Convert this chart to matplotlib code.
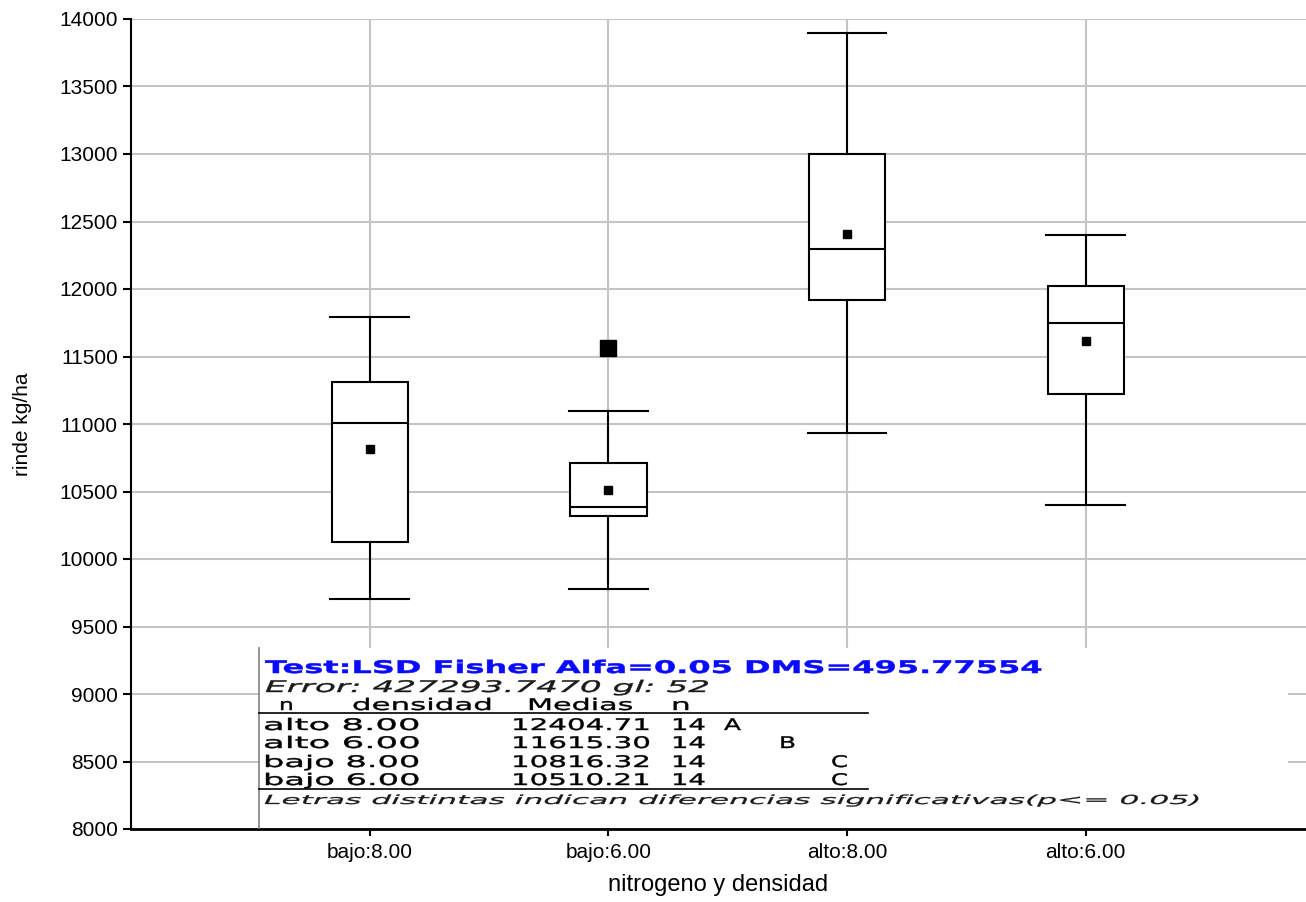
import matplotlib
matplotlib.use("Agg")
from matplotlib import pyplot as plt
import matplotlib.patheffects as pe
from matplotlib.transforms import Affine2D
from matplotlib.patches import Rectangle
from matplotlib.lines import Line2D

# --- data ----------------------------------------------------------------------
categories = ["bajo:8.00", "bajo:6.00", "alto:8.00", "alto:6.00"]
whis_lo = [9704, 9778, 10936, 10400]
q1 = [10128, 10321, 11919, 11222]
medians = [11005, 10385, 12299, 11750]
q3 = [11313, 10709, 13000, 12022]
whis_hi = [11795, 11096, 13899, 12400]
means = [10816.32, 10510.21, 12404.71, 11615.30]
outliers = [[], [11565], [], []]
n_obs = [14, 14, 14, 14]
letters = ["C", "C", "A", "B"]

test_title = "Test:LSD Fisher Alfa=0.05 DMS=495.77554"
error_line = "Error: 427293.7470 gl: 52"
header = ["n", "densidad", "Medias", "n"]
footer = "Letras distintas indican diferencias significativas(p<= 0.05)"

plt.rcParams["font.family"] = ["Liberation Sans", "DejaVu Sans"]

W, H = 1306, 902
fig = plt.figure(figsize=(W / 100, H / 100), dpi=100)
ax = fig.add_axes([131 / W, 1 - 829 / H, 1 - 131 / W, 810 / H])

stats = []
for i in range(len(categories)):
    stats.append(dict(whislo=whis_lo[i], q1=q1[i], med=medians[i], q3=q3[i],
                      whishi=whis_hi[i], mean=means[i], fliers=outliers[i]))

pos = list(range(1, len(categories) + 1))
ax.bxp(stats, positions=pos, widths=0.32, capwidths=0.33, showmeans=True,
       patch_artist=True, zorder=3,
       boxprops=dict(facecolor="white", edgecolor="black", linewidth=1.5),
       whiskerprops=dict(color="black", linewidth=1.5),
       capprops=dict(color="black", linewidth=1.5),
       medianprops=dict(color="black", linewidth=1.5),
       meanprops=dict(marker="s", markerfacecolor="black", markeredgecolor="black", markersize=6.2),
       flierprops=dict(marker="s", markerfacecolor="black", markeredgecolor="black", markersize=12))

ax.set_xlim(0, (W - 131) / 238.7)
ax.set_ylim(8000, 14000)
ax.set_yticks(range(8000, 14001, 500))
ax.set_xticks(pos)
ax.set_xticklabels(categories)
ax.set_axisbelow(True)
ax.grid(True, color="#c4c4c4", linewidth=1.5)
for s in ["top", "right"]:
    ax.spines[s].set_visible(False)
ax.spines["left"].set_linewidth(1.5)
ax.spines["bottom"].set_linewidth(2)
ax.tick_params(axis="y", length=6, width=1.5, pad=3.5, labelsize=15)
ax.tick_params(axis="x", length=5, width=1.5, pad=5, labelsize=15)

ax.set_ylabel("rinde kg/ha", fontsize=15)
ax.yaxis.set_label_coords(-0.084, 0.5)
ax.set_xlabel("nitrogeno y densidad", fontsize=17)
ax.xaxis.set_label_coords(0.5, -0.055)

# white panel behind the LSD table
ax.add_patch(Rectangle((259 / W, 1 - 828 / H), (1288 - 259) / W, 180 / H,
                       transform=fig.transFigure, facecolor="white",
                       edgecolor="none", zorder=1))
fig.add_artist(Line2D([259 / W, 259 / W], [1 - 648 / H, 1 - 828 / H], color="#808080", lw=1.2))
for yl in (713, 789):
    fig.add_artist(Line2D([259 / W, 868 / W], [1 - yl / H, 1 - yl / H], color="black", lw=1.2))


class Stretch(pe.AbstractPathEffect):
    # widen (and thicken) glyphs, the table text in the picture is stretched
    def __init__(self, sx, lw):
        super().__init__()
        self.sx = sx
        self.lw = lw

    def draw_path(self, renderer, gc, tpath, affine, rgbFace=None):
        gc0 = renderer.new_gc()
        gc0.copy_properties(gc)
        gc0.set_linewidth(self.lw)
        gc0.set_foreground(rgbFace)
        renderer.draw_path(gc0, tpath, Affine2D().scale(self.sx, 1) + affine, rgbFace)
        gc0.restore()


renderer = fig.canvas.get_renderer()


def put(x0, x1, y, s, size, lw=0.3, **kw):
    t = fig.text(x0 / W, 1 - y / H, s, fontsize=size, ha="left", va="baseline",
                 family="DejaVu Sans", **kw)
    w = t.get_window_extent(renderer).width
    t.set_path_effects([Stretch((x1 - x0) / w, lw)])
    return t


put(265, 1044, 673, test_title, 12.5, lw=0.35, color="#0a0aff", weight="bold")
put(265, 710, 692, error_line, 11.5, color="#1a1a1a", style="italic")
for (x0, x1), word in zip([(279, 294), (352, 494), (527, 634), (671, 691)], header):
    put(x0, x1, 710, word, 11.5, color="black")

order = sorted(range(len(categories)), key=lambda i: -means[i])
letter_x = {"A": 724, "B": 779, "C": 831}
for r, i in enumerate(order):
    yb = [730, 748, 767, 785][r]
    put(263, 421, yb, categories[i].replace(":", " "), 11.5, color="black")
    put(511, 651, yb, f"{means[i]:.2f}", 11.5, color="black")
    put(671, 706, yb, str(n_obs[i]), 11.5, color="black")
    put(letter_x[letters[i]], letter_x[letters[i]] + 17, yb, letters[i], 11.5, color="black")

put(264, 1201, 804, footer, 9, lw=0.2, color="#1a1a1a", style="italic")

fig.savefig("out.png", dpi=100)
